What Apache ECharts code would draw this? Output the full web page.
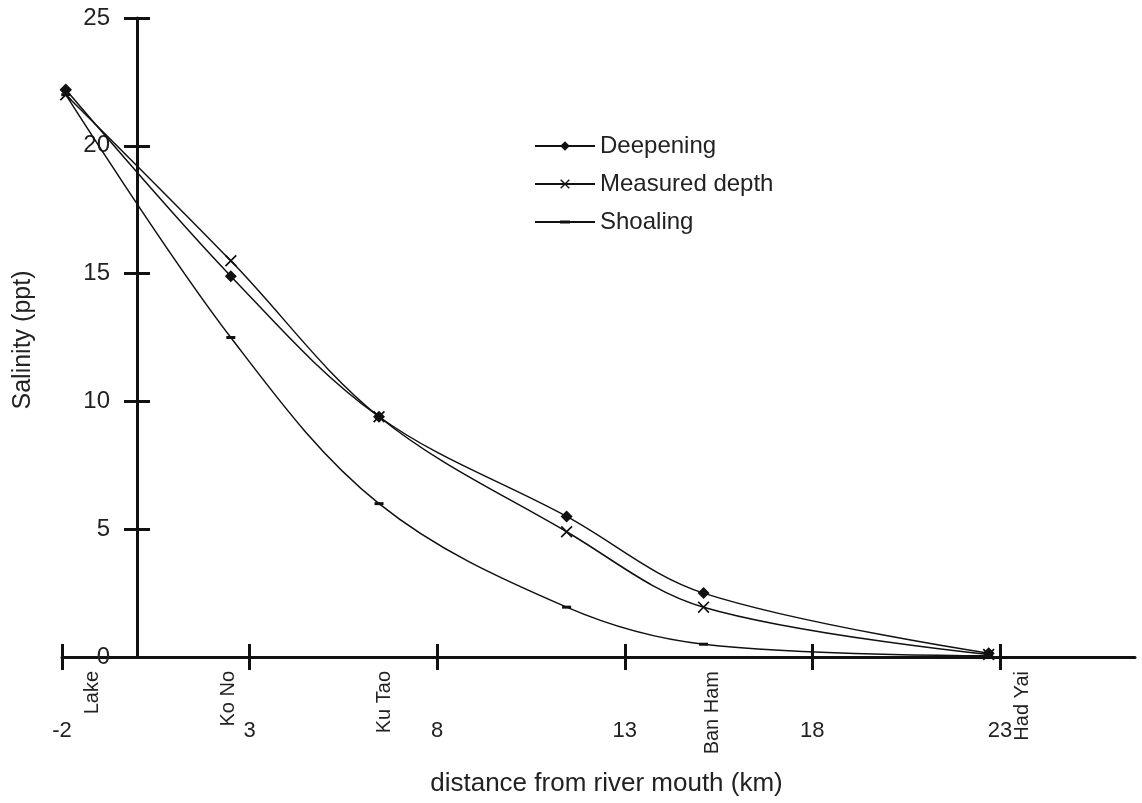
<!DOCTYPE html>
<html>
<head>
<meta charset="utf-8">
<script src="https://cdn.jsdelivr.net/npm/echarts@6/dist/echarts.min.js"></script>
<style>html,body{margin:0;padding:0;background:#fff}#c{width:1142px;height:803px}</style>
</head>
<body>
<div id="c"></div>
<script>
// ---- data ----
const distances = [-1.9, 2.5, 6.45, 11.45, 15.1, 22.7];
const deepening = [22.2, 14.9, 9.4, 5.5, 2.5, 0.15];
const measured  = [22.0, 15.5, 9.4, 4.9, 1.95, 0.1];
const shoaling  = [22.0, 12.5, 6.0, 1.95, 0.5, 0.05];
const xTicks = [-2, 3, 8, 13, 18, 23];
const yTicks = [0, 5, 10, 15, 20, 25];
const stationNames = ['Lake', 'Ko No', 'Ku Tao', 'Ban Ham', 'Had Yai'];
const stationPos   = [-1.2, 2.45, 6.6, 15.35, 23.6];
const seriesNames = ['Deepening', 'Measured depth', 'Shoaling'];
const xTitle = 'distance from river mouth (km)';
const yTitle = 'Salinity (ppt)';

const pairs = ys => distances.map((d, i) => [d, ys[i]]);
const FONT = 'Liberation Sans, Arial, Helvetica, sans-serif';
const INK = '#111';
const TXT = '#222';
const crossPath = 'path://M0,1 L1,0 L5,4 L9,0 L10,1 L6,5 L10,9 L9,10 L5,6 L1,10 L0,9 L4,5Z';
const dashPath = 'path://M0,0 L3,0 L3,1 L0,1Z';
const shoalLegendIcon = 'path://M0,5.1 L60,5.1 L60,6.9 L0,6.9Z M25,4.5 L35,4.5 L35,7.5 L25,7.5Z';

const chart = echarts.init(document.getElementById('c'), null, {renderer: 'canvas'});
const X_MIN = -2, X_MAX = 26.6;

const option = {
  backgroundColor: '#fff',
  animation: false,
  textStyle: {fontFamily: FONT, color: TXT},
  grid: {left: 62, right: 7, top: 18, bottom: 146, containLabel: false, outerBoundsMode: 'none'},
  legend: {
    orient: 'vertical', left: 529, top: 129,
    itemWidth: 60, itemHeight: 12, itemGap: 14,
    data: [seriesNames[0], seriesNames[1], {name: seriesNames[2], icon: shoalLegendIcon}],
    textStyle: {fontFamily: FONT, fontSize: 24, color: TXT}
  },
  graphic: [
    {
      type: 'text', x: 23, y: 340, rotation: Math.PI / 2,
      style: {text: yTitle, font: '25px ' + FONT, fill: TXT, textAlign: 'center', textVerticalAlign: 'middle'}
    }
  ],
  xAxis: [
    {
      type: 'value', min: X_MIN, max: X_MAX,
      axisLine: {show: true, onZero: true, lineStyle: {color: INK, width: 3}},
      axisTick: {show: true, inside: false, length: 13, lineStyle: {color: INK, width: 3}, customValues: xTicks},
      axisLabel: {show: true, margin: 63, fontSize: 22, color: TXT, fontFamily: FONT, customValues: xTicks},
      splitLine: {show: false},
      name: xTitle, nameLocation: 'middle', nameGap: 114, nameMoveOverlap: false,
      nameTextStyle: {fontSize: 26, color: TXT, fontFamily: FONT, padding: [0, 0, 0, 16]}
    },
    {
      type: 'value', min: X_MIN, max: X_MAX, position: 'bottom',
      axisLine: {show: false, onZero: true},
      axisTick: {show: true, inside: true, length: 13, lineStyle: {color: INK, width: 3}, customValues: xTicks},
      axisLabel: {show: false},
      splitLine: {show: false}
    },
    {
      type: 'value', min: X_MIN, max: X_MAX, position: 'bottom',
      axisLine: {show: false, onZero: true},
      axisTick: {show: false},
      axisLabel: {
        show: true, rotate: 90, margin: 14, fontSize: 20, color: TXT, fontFamily: FONT,
        customValues: stationPos,
        formatter: v => { const i = stationPos.indexOf(v); return i >= 0 ? stationNames[i] : ''; }
      },
      splitLine: {show: false}
    }
  ],
  yAxis: [
    {
      type: 'value', min: 0, max: 25, position: 'left',
      axisLine: {show: true, onZero: true, onZeroAxisIndex: 0, lineStyle: {color: INK, width: 3}},
      axisTick: {show: true, inside: false, length: 13, lineStyle: {color: INK, width: 3}, customValues: yTicks.slice(1)},
      axisLabel: {
        show: true, margin: -48, fontSize: 24, color: TXT, fontFamily: FONT, customValues: yTicks
      },
      splitLine: {show: false}
    },
    {
      type: 'value', min: 0, max: 25, position: 'left',
      axisLine: {show: false, onZero: true, onZeroAxisIndex: 0},
      axisTick: {show: true, inside: true, length: 13, lineStyle: {color: INK, width: 3}, customValues: yTicks.slice(1)},
      axisLabel: {show: false},
      splitLine: {show: false}
    }
  ],
  series: [
    {
      name: seriesNames[0], type: 'line', data: pairs(deepening), smooth: 0.35,
      symbol: 'diamond', symbolSize: 12,
      lineStyle: {color: INK, width: 1.5}, itemStyle: {color: INK}
    },
    {
      name: seriesNames[1], type: 'line', data: pairs(measured), smooth: 0.35,
      symbol: crossPath, symbolSize: 12,
      lineStyle: {color: INK, width: 1.5}, itemStyle: {color: INK}
    },
    {
      name: seriesNames[2], type: 'line', data: pairs(shoaling), smooth: 0.35,
      symbol: dashPath, symbolSize: 9, symbolKeepAspect: true,
      lineStyle: {color: INK, width: 1.5}, itemStyle: {color: INK}
    }
  ]
};
chart.setOption(option);
</script>
</body>
</html>
